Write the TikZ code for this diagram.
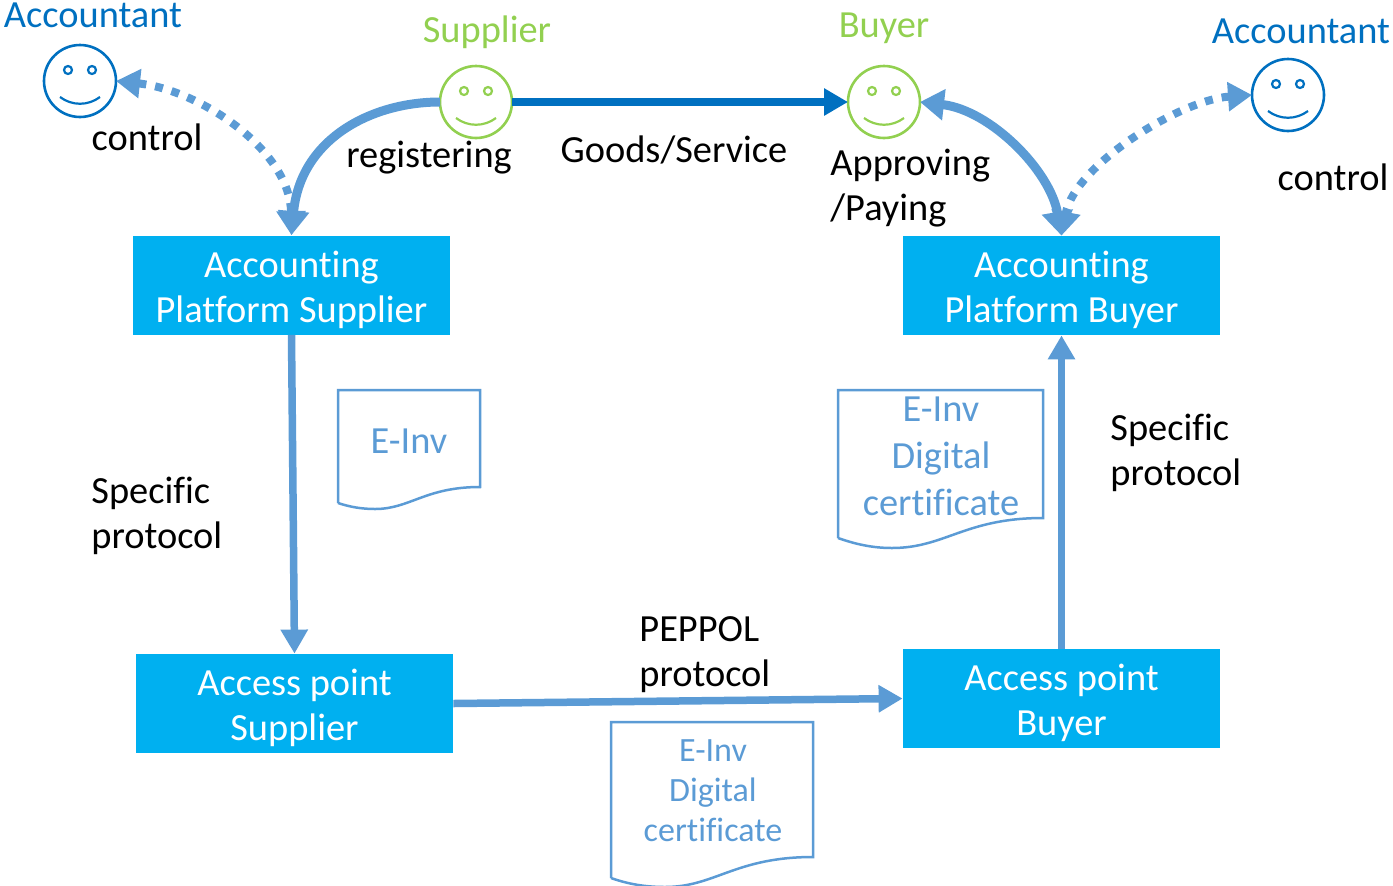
\documentclass[tikz,border=0pt]{standalone}
\usepackage{fontspec}
\setmainfont[Ligatures=NoCommon]{Carlito}
\usetikzlibrary{arrows.meta, math, calc}
\definecolor{boxBlue}{HTML}{00B0F0}
\definecolor{lineBlue}{HTML}{5B9BD5}
\definecolor{darkBlue}{HTML}{0070C0}
\definecolor{faceGreen}{HTML}{92D050}

\begin{document}
\begin{tikzpicture}[x=0.5pt, y=-0.5pt]
	\tikzmath{
		\boxW = 158.5;  %box width
		\boxH = 49.5;   %box height
		\faceD = 36;    %face diameter
	}
	\tikzstyle{Box} = [
		minimum width=\boxW pt,
		minimum height=\boxH pt,
		inner sep=0pt,
		fill=boxBlue
	]
	\tikzstyle{BoxText} = [
		text=white,
		align=center,
		inner sep=0pt,
		font=\fontsize{19.2}{22.5}\selectfont
	]
	\tikzstyle{Face} = [
		circle,
		minimum size=\faceD pt,
		inner sep=0pt,
		outer sep=0pt,
		line width=1.3pt,
		draw
	]
	\tikzstyle{Label} = [
		align=left,
		inner sep=0pt,
		font=\fontsize{19.2}{22.5}\selectfont
	]
	\tikzstyle{DocText} = [
		align=center,
		inner sep=0pt,
		text=lineBlue
	]
	\tikzstyle{Doc} = [draw=lineBlue, line width=1.25pt]
	\tikzstyle{Flow} = [draw=lineBlue, line width=3.75pt, -{Triangle[length=12pt,width=13pt]}]
	\tikzstyle{Dots} = [draw=lineBlue, line width=4pt, dash pattern=on 4pt off 4.5pt, {Triangle[length=12pt,width=14pt]}-{Triangle[length=12pt,width=14pt]}]

	\useasboundingbox (0,0) rectangle (1393,885);
	\clip (0,0) rectangle (1393,885);

	\node (accLeft) [Face, draw=darkBlue] at (80,81) {};
	\node (supplier) [Face, draw=faceGreen] at (476,102) {};
	\node (buyer) [Face, draw=faceGreen] at (884,102) {};
	\node (accRight) [Face, draw=darkBlue] at (1288,95) {};

	\coordinate (eyeLeft) at (-12,-11);
	\coordinate (eyeRight) at (12,-11);
	\coordinate (smileLeft) at (-20,16);
	\coordinate (smileRight) at (20,16);
	\foreach \f/\c in {accLeft/darkBlue, supplier/faceGreen, buyer/faceGreen, accRight/darkBlue}{
		\draw [\c, line width=1.1pt] ($(\f) + (eyeLeft)$) circle [radius=2pt];
		\draw [\c, line width=1.1pt] ($(\f) + (eyeRight)$) circle [radius=2pt];
		\draw [\c, line width=1.1pt] ($(\f) + (smileLeft)$) ..
			controls ($(\f) + (-8,25)$) and ($(\f) + (8,25)$) ..
			($(\f) + (smileRight)$);
	}

	\coordinate (textShift) at (0,4.5);
	\node (platSupplier) [Box] at (291.5,285) {};
	\node (platBuyer) [Box] at (1061.5,285.5) {};
	\node (pointSupplier) [Box] at (294.5,703.5) {};
	\node (pointBuyer) [Box] at (1061.5,698.5) {};
	\node (platSupplierText) [BoxText] at ($(platSupplier) + (textShift)$) {Accounting\\Platform Supplier};
	\node (platBuyerText) [BoxText] at ($(platBuyer) + (textShift)$) {Accounting\\Platform Buyer};
	\node (pointSupplierText) [BoxText] at ($(pointSupplier) + (textShift)$) {Access point\\Supplier};
	\node (pointBuyerText) [BoxText] at ($(pointBuyer) + (textShift)$) {Access point\\Buyer};

	\node (accLeftText) [Label, text=darkBlue] at (93,15) {Accountant};
	\node (supplierText) [Label, text=faceGreen] at (487,32) {Supplier};
	\node (buyerText) [Label, text=faceGreen] at (884,28) {Buyer};
	\node (accRightText) [Label, text=darkBlue] at (1301,31) {Accountant};
	\node (controlLeft) [Label] at (147,137) {control};
	\node (controlRight) [Label] at (1333,177) {control};
	\node (registering) [Label] at (429,158) {registering};
	\node (goods) [Label] at (674,150) {Goods/Service};
	\node (approving) [Label, anchor=west] at (830,188) {Approving\\/Paying};
	\node (specLeft) [Label, anchor=west] at (91,516) {Specific\\protocol};
	\node (specRight) [Label, anchor=west] at (1110,453) {Specific\\protocol};
	\node (peppol) [Label, anchor=west] at (639,655) {PEPPOL\\protocol};

	%documents
	\draw [Doc] (338,503) -- (338,390) -- (480,390) -- (480,487) ..
		controls (425,487) and (410,509) .. (375,509) ..
		controls (362,509) and (350,507) .. (338,503);
	\draw [Doc] (838,538) -- (838,390) -- (1043,390) -- (1043,518) ..
		controls (965,518) and (945,548) .. (892,548) ..
		controls (872,548) and (855,544) .. (838,538);
	\draw [Doc] (611,878) -- (611,722) -- (813,722) -- (813,857) ..
		controls (735,857) and (715,887) .. (665,887) ..
		controls (645,887) and (628,884) .. (611,878);
	\node (docOne) [DocText, font=\fontsize{19.2}{22.5}\selectfont] at (409,441) {E-Inv};
	\node (docTwo) [DocText, font=\fontsize{19.2}{23.5}\selectfont] at (941,456.5) {E-Inv\\Digital\\certificate};
	\node (docThree) [DocText, font=\fontsize{17}{20}\selectfont] at (713,791) {E-Inv\\Digital\\certificate};

	%connectors
	\draw [Dots] (accLeft.east) .. controls (200,90) and (290,150) .. (platSupplier.north);
	\draw [Dots] (accRight.west) .. controls (1180,100) and (1075,165) .. (platBuyer.north);
	\draw [Flow, line width=4.5pt, -{Triangle[length=12pt,width=15pt]}] (supplier.west) .. controls (370,102) and (300,140) .. (platSupplier.north);
	\draw [Flow, draw=darkBlue] (supplier.east) -- (buyer.west);
	\draw [Flow, line width=4.5pt, {Triangle[length=12pt,width=15pt]}-{Triangle[length=12pt,width=15pt]}] (buyer.east) .. controls (990,110) and (1050,170) .. (platBuyer.north);
	\draw [Flow] (platSupplier.south) -- (pointSupplier.north);
	\draw [Flow] (pointSupplier.east) -- (pointBuyer.west);
	\draw [Flow] (pointBuyer.north) -- (platBuyer.south);
\end{tikzpicture}
\end{document}
